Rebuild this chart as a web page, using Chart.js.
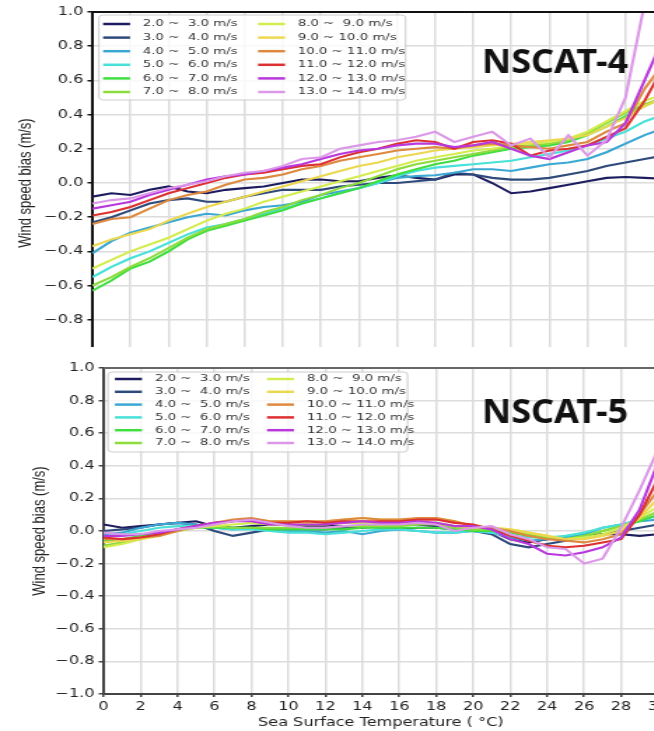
<!DOCTYPE html>
<html>
<head>
<meta charset="utf-8">
<script src="https://cdn.jsdelivr.net/npm/chart.js@4/dist/chart.umd.min.js"></script>
<style>
  html, body { margin: 0; padding: 0; background: #fff; overflow: hidden; }
  .panel { position: absolute; left: 0; width: 654px; overflow: hidden; }
  .panel canvas { transform: scaleX(1.4); transform-origin: 0 0; }
</style>
</head>
<body>
<div class="panel" style="top:0;height:347px"><canvas id="top" width="490" height="400"></canvas></div>
<div class="panel" style="top:348px;height:383px"><canvas id="bottom" width="490" height="383"></canvas></div>
<script>
// sea surface temperature (deg C)
const sst = [0,1,2,3,4,5,6,7,8,9,10,11,12,13,14,15,16,17,18,19,20,21,22,23,24,25,26,27,28,29,30];

const binLabels = ['2.0 ~  3.0 m/s', '3.0 ~  4.0 m/s', '4.0 ~  5.0 m/s', '5.0 ~  6.0 m/s',
  '6.0 ~  7.0 m/s', '7.0 ~  8.0 m/s', '8.0 ~  9.0 m/s', '9.0 ~ 10.0 m/s',
  '10.0 ~ 11.0 m/s', '11.0 ~ 12.0 m/s', '12.0 ~ 13.0 m/s', '13.0 ~ 14.0 m/s'];
const binColors = ['#1c1c5e', '#2e4a7a', '#3aa8d2', '#48e0d8', '#40dd40', '#8cdc3c',
  '#d4ec50', '#ecd850', '#dd8a40', '#dd3030', '#b838dc', '#dc98e8'];

// NSCAT-4 wind speed bias (m/s)
const n4_2_3 = [-0.08,-0.06,-0.07,-0.04,-0.02,-0.05,-0.06,-0.04,-0.03,-0.02,0.00,0.02,0.02,0.01,0.01,0.03,0.045,0.03,0.02,0.05,0.05,0.00,-0.06,-0.05,-0.03,-0.01,0.01,0.03,0.035,0.03,0.025];
const n4_3_4 = [-0.23,-0.20,-0.16,-0.12,-0.10,-0.09,-0.11,-0.11,-0.08,-0.06,-0.04,-0.04,-0.04,-0.02,-0.01,0.00,0.00,0.01,0.02,0.06,0.05,0.03,0.02,0.02,0.03,0.05,0.07,0.10,0.12,0.14,0.16];
const n4_4_5 = [-0.41,-0.34,-0.29,-0.26,-0.23,-0.20,-0.18,-0.19,-0.16,-0.14,-0.13,-0.11,-0.07,-0.05,-0.03,0.00,0.03,0.04,0.045,0.06,0.08,0.08,0.07,0.09,0.11,0.12,0.14,0.18,0.23,0.28,0.32];
const n4_5_6 = [-0.55,-0.49,-0.44,-0.40,-0.35,-0.30,-0.26,-0.24,-0.21,-0.18,-0.15,-0.12,-0.09,-0.06,-0.03,0.00,0.04,0.07,0.09,0.10,0.11,0.12,0.13,0.15,0.17,0.19,0.22,0.26,0.30,0.36,0.40];
const n4_6_7 = [-0.63,-0.57,-0.50,-0.46,-0.40,-0.33,-0.28,-0.25,-0.22,-0.19,-0.16,-0.12,-0.09,-0.06,-0.03,0.01,0.05,0.08,0.11,0.13,0.16,0.18,0.20,0.21,0.22,0.24,0.28,0.33,0.39,0.45,0.50];
const n4_7_8 = [-0.60,-0.55,-0.49,-0.44,-0.38,-0.32,-0.27,-0.24,-0.21,-0.17,-0.14,-0.10,-0.07,-0.03,0.00,0.04,0.08,0.11,0.13,0.15,0.17,0.19,0.21,0.22,0.23,0.25,0.29,0.35,0.41,0.46,0.50];
const n4_8_9 = [-0.50,-0.45,-0.40,-0.36,-0.32,-0.27,-0.22,-0.18,-0.15,-0.11,-0.08,-0.05,-0.02,0.01,0.04,0.07,0.10,0.13,0.15,0.17,0.19,0.20,0.22,0.23,0.24,0.26,0.30,0.36,0.42,0.48,0.52];
const n4_9_10 = [-0.37,-0.33,-0.30,-0.27,-0.22,-0.18,-0.14,-0.11,-0.08,-0.05,-0.02,0.01,0.04,0.07,0.10,0.12,0.15,0.17,0.19,0.20,0.21,0.22,0.23,0.24,0.25,0.26,0.28,0.33,0.38,0.45,0.50];
const n4_10_11 = [-0.24,-0.21,-0.20,-0.15,-0.10,-0.07,-0.05,-0.01,0.02,0.03,0.05,0.08,0.10,0.13,0.15,0.17,0.19,0.20,0.21,0.20,0.22,0.23,0.22,0.21,0.20,0.22,0.24,0.30,0.35,0.55,0.70];
const n4_11_12 = [-0.19,-0.17,-0.14,-0.10,-0.06,-0.03,0.00,0.03,0.05,0.06,0.08,0.10,0.11,0.15,0.18,0.20,0.23,0.25,0.24,0.20,0.24,0.25,0.23,0.16,0.19,0.20,0.22,0.27,0.32,0.48,0.68];
const n4_12_13 = [-0.15,-0.13,-0.11,-0.07,-0.04,-0.01,0.02,0.04,0.05,0.07,0.09,0.11,0.14,0.17,0.19,0.20,0.22,0.23,0.23,0.21,0.22,0.24,0.20,0.16,0.14,0.18,0.22,0.24,0.35,0.60,0.85];
const n4_13_14 = [-0.12,-0.10,-0.09,-0.06,-0.03,-0.01,0.01,0.04,0.06,0.07,0.10,0.14,0.15,0.20,0.22,0.24,0.25,0.27,0.30,0.24,0.27,0.30,0.22,0.26,0.15,0.28,0.16,0.25,0.50,1.05,1.30];

// NSCAT-5 wind speed bias (m/s)
const n5_2_3 = [0.04,0.02,0.03,0.04,0.05,0.06,0.03,0.02,0.03,0.04,0.04,0.03,0.03,0.03,0.02,0.03,0.04,0.04,0.03,0.02,0.01,0.00,-0.05,-0.07,-0.05,-0.04,-0.03,-0.02,-0.02,-0.03,-0.02];
const n5_3_4 = [0.00,0.01,0.02,0.04,0.05,0.04,0.00,-0.03,-0.01,0.01,0.02,0.01,0.01,0.02,0.03,0.02,0.01,0.02,0.02,0.01,0.00,-0.02,-0.08,-0.10,-0.08,-0.06,-0.04,-0.02,0.00,0.02,0.04];
const n5_4_5 = [-0.02,-0.01,0.02,0.04,0.05,0.04,0.02,0.01,0.02,0.01,0.00,0.00,-0.01,0.00,-0.02,0.00,0.01,0.00,-0.01,-0.01,0.00,-0.01,-0.04,-0.06,-0.05,-0.04,-0.02,0.02,0.04,0.06,0.07];
const n5_5_6 = [-0.03,-0.02,0.00,0.02,0.03,0.03,0.02,0.01,0.01,0.00,-0.01,-0.01,-0.02,-0.01,0.00,0.01,0.01,0.00,-0.01,-0.01,0.00,-0.01,-0.03,-0.04,-0.04,-0.03,-0.01,0.02,0.04,0.07,0.09];
const n5_6_7 = [-0.06,-0.05,-0.03,-0.01,0.01,0.02,0.02,0.02,0.02,0.01,0.01,0.01,0.01,0.01,0.02,0.02,0.02,0.02,0.02,0.01,0.00,0.00,-0.01,-0.03,-0.04,-0.05,-0.03,0.00,0.03,0.06,0.10];
const n5_7_8 = [-0.09,-0.07,-0.05,-0.02,0.00,0.02,0.03,0.02,0.02,0.02,0.02,0.02,0.02,0.03,0.03,0.03,0.03,0.04,0.04,0.02,0.01,0.01,0.00,-0.02,-0.04,-0.05,-0.03,0.00,0.03,0.07,0.12];
const n5_8_9 = [-0.10,-0.08,-0.05,-0.03,0.00,0.02,0.03,0.04,0.05,0.04,0.04,0.04,0.04,0.05,0.05,0.04,0.05,0.05,0.05,0.03,0.02,0.02,0.01,-0.01,-0.03,-0.05,-0.04,-0.02,0.02,0.08,0.15];
const n5_9_10 = [-0.07,-0.06,-0.05,-0.02,0.01,0.03,0.04,0.06,0.07,0.06,0.06,0.05,0.06,0.07,0.08,0.07,0.07,0.07,0.08,0.06,0.03,0.02,0.01,-0.01,-0.03,-0.05,-0.05,-0.03,0.00,0.08,0.20];
const n5_10_11 = [-0.05,-0.05,-0.04,-0.03,0.00,0.03,0.05,0.07,0.08,0.06,0.06,0.06,0.06,0.07,0.08,0.07,0.07,0.08,0.08,0.06,0.03,0.02,0.00,-0.03,-0.05,-0.06,-0.07,-0.05,-0.02,0.10,0.25];
const n5_11_12 = [-0.04,-0.05,-0.04,-0.02,0.01,0.03,0.05,0.06,0.07,0.05,0.05,0.06,0.05,0.06,0.06,0.06,0.06,0.07,0.07,0.05,0.04,0.01,-0.03,-0.06,-0.09,-0.10,-0.09,-0.07,-0.05,0.10,0.32];
const n5_12_13 = [-0.03,-0.03,-0.02,-0.01,0.01,0.03,0.05,0.06,0.06,0.04,0.04,0.04,0.04,0.05,0.06,0.05,0.05,0.06,0.05,0.03,0.03,0.01,-0.05,-0.08,-0.14,-0.15,-0.13,-0.10,-0.04,0.13,0.42];
const n5_13_14 = [-0.01,-0.02,-0.02,0.00,0.01,0.02,0.04,0.06,0.07,0.05,0.03,0.02,0.02,0.03,0.04,0.04,0.04,0.05,0.04,0.00,0.02,0.03,-0.02,-0.05,-0.10,-0.11,-0.20,-0.17,0.02,0.25,0.50];

const nscat4 = [n4_2_3, n4_3_4, n4_4_5, n4_5_6, n4_6_7, n4_7_8, n4_8_9, n4_9_10, n4_10_11, n4_11_12, n4_12_13, n4_13_14];
const nscat5 = [n5_2_3, n5_3_4, n5_4_5, n5_5_6, n5_6_7, n5_7_8, n5_8_9, n5_9_10, n5_10_11, n5_11_12, n5_12_13, n5_13_14];

const STRETCH = 1.4;
const FONT = 'DejaVu Sans';

// legend box inside the plot, two columns of six
const legendBox = {
  id: 'legendBox',
  afterDatasetsDraw(chart, args, o) {
    const {ctx, chartArea: a} = chart;
    const x0 = a.left + o.x, y0 = a.top + o.y;
    ctx.save();
    ctx.beginPath();
    ctx.roundRect(x0, y0, o.w, o.h, 3);
    ctx.fillStyle = 'rgba(255,255,255,0.8)';
    ctx.fill();
    ctx.strokeStyle = '#cccccc';
    ctx.lineWidth = 1;
    ctx.stroke();
    ctx.font = '9.5px "' + FONT + '"';
    ctx.textBaseline = 'middle';
    chart.data.datasets.forEach((d, i) => {
      const lx = x0 + o.lineX + Math.floor(i / 6) * o.colW;
      const ly = y0 + o.rowY + (i % 6) * o.rowH;
      ctx.strokeStyle = d.borderColor;
      ctx.lineWidth = 2.5;
      ctx.beginPath();
      ctx.moveTo(lx, ly);
      ctx.lineTo(lx + o.lineW, ly);
      ctx.stroke();
      ctx.fillStyle = '#333';
      ctx.fillText(d.label, lx + o.textX, ly);
    });
    ctx.restore();
  }
};

// top frame line + panel name (drawn unstretched)
const frameTitle = {
  id: 'frameTitle',
  afterDraw(chart, args, o) {
    const {ctx, chartArea: a} = chart;
    ctx.save();
    ctx.strokeStyle = o.frameColor;
    ctx.lineWidth = 2;
    ctx.beginPath();
    ctx.moveTo(a.left, a.top);
    ctx.lineTo(a.right, a.top);
    ctx.stroke();
    ctx.font = 'bold 34px "Noto Sans"';
    const w = ctx.measureText(o.text).width;
    ctx.translate(o.x, o.y);
    ctx.scale(o.width / w / STRETCH, 1);
    ctx.fillStyle = '#111';
    ctx.textAlign = 'left';
    ctx.textBaseline = 'alphabetic';
    ctx.fillText(o.text, 0, 0);
    ctx.restore();
  }
};

function tickText(v) {
  if (Math.abs(v) < 1e-9) return '0.0';
  return v.toFixed(1).replace('-', '\u2212');
}

function makeChart(id, series, p) {
  const datasets = series.map((vals, i) => ({
    label: binLabels[i],
    data: sst.map((t, j) => ({x: t, y: vals[j]})),
    borderColor: binColors[i],
    backgroundColor: binColors[i],
    borderWidth: 2.1,
    pointRadius: 0,
    fill: false,
    tension: 0,
    order: series.length - i
  }));
  return new Chart(document.getElementById(id), {
    type: 'line',
    data: {datasets: datasets},
    options: {
      responsive: false,
      animation: false,
      devicePixelRatio: 1,
      layout: {padding: {top: p.padTop, right: p.padRight, left: 0, bottom: 0}},
      scales: {
        x: {
          type: 'linear',
          min: 0, max: 30,
          afterFit(s) { s.height = p.xHeight; },
          ticks: {stepSize: 2, color: '#222', padding: 3.5, maxRotation: 0,
            font: {family: FONT, size: 11.5}},
          grid: {color: '#dcdcdc', lineWidth: 1.5, tickColor: p.axisColor, tickLength: 3, tickWidth: 1.5},
          border: {color: p.axisColor, width: 2},
          title: {display: true, text: 'Sea Surface Temperature ( \u00b0C)', color: '#222',
            font: {family: FONT, size: 11.5}, padding: {top: 0, bottom: 1}}
        },
        y: {
          min: -1, max: 1,
          afterFit(s) { s.width = p.yWidth; },
          ticks: {stepSize: 0.2, color: '#222', padding: 3, callback: tickText,
            font: {family: FONT, size: 11.5}},
          grid: {color: '#dcdcdc', lineWidth: 1.5, tickColor: p.axisColor, tickLength: 3.5, tickWidth: 1.5},
          border: {color: p.axisColor, width: 2},
          title: {display: true, text: 'Wind speed bias (m/s)', color: '#222',
            font: {family: 'Liberation Sans', size: 13}, padding: {top: p.yTitlePad, bottom: 0}}
        }
      },
      plugins: {
        legend: {display: false},
        tooltip: {enabled: false},
        legendBox: p.legend,
        frameTitle: {text: p.title, x: p.titleX, y: p.titleY, width: 146, frameColor: p.frameColor}
      }
    },
    plugins: [legendBox, frameTitle]
  });
}

makeChart('top', nscat4, {
  padTop: 12, padRight: 16, xHeight: 46, yWidth: 66, yTitlePad: 11,
  axisColor: '#111', frameColor: '#111',
  title: 'NSCAT-4', titleX: 344.3, titleY: 73,
  legend: {x: 4.7, y: 3, w: 219, h: 85, lineX: 2.9, lineW: 19.3, textX: 28.4, rowY: 9, rowH: 13.6, colW: 110.7}
});

makeChart('bottom', nscat5, {
  padTop: 20, padRight: 20, xHeight: 37, yWidth: 74, yTitlePad: 21,
  axisColor: '#444', frameColor: '#666',
  title: 'NSCAT-5', titleX: 344.3, titleY: 75,
  legend: {x: 3.1, y: 4, w: 214, h: 80, lineX: 5, lineW: 19.3, textX: 28.6, rowY: 7, rowH: 12.8, colW: 108.6}
});
</script>
</body>
</html>
